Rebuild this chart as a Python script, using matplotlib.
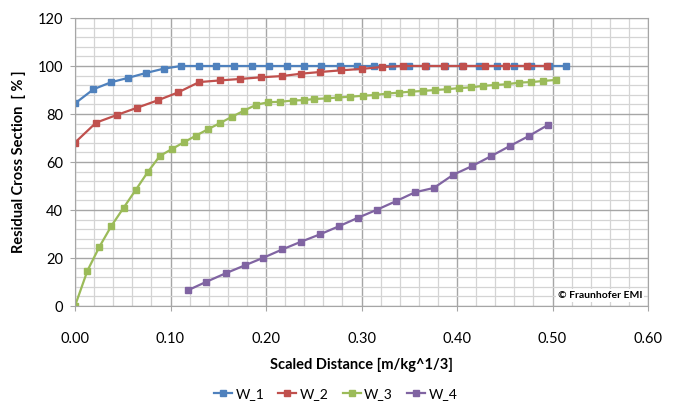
import numpy as np
import matplotlib.pyplot as plt
from matplotlib.ticker import MultipleLocator

plt.rcParams['font.family'] = ['Lato', 'DejaVu Sans']

# W_1
x_w1 = [0.0, 0.0193, 0.0375, 0.056, 0.0744, 0.093, 0.111, 0.13, 0.148, 0.167,
        0.185, 0.2035, 0.222, 0.240, 0.258, 0.277, 0.295, 0.313, 0.332, 0.350,
        0.368, 0.387, 0.405, 0.423, 0.442, 0.460, 0.478, 0.496, 0.514]
y_w1 = [84.4, 90.3, 93.2, 95.1, 97.1, 98.9, 100, 100, 100, 100,
        100, 100, 100, 100, 100, 100, 100, 100, 100, 100,
        100, 100, 100, 100, 100, 100, 100, 100, 100]

# W_2
x_w2 = [0.0, 0.0221, 0.0439, 0.065, 0.0867, 0.108, 0.13, 0.152, 0.173, 0.195,
        0.2165, 0.237, 0.2565, 0.2786, 0.3003, 0.3218, 0.3435, 0.366, 0.386,
        0.4067, 0.4295, 0.4516, 0.4734, 0.4944]
y_w2 = [68.1, 76.4, 79.6, 82.6, 85.7, 89.0, 93.3, 94.0, 94.6, 95.3,
        95.8, 96.8, 97.5, 98.2, 98.8, 99.6, 100, 100, 100,
        100, 100, 100, 100, 100]

# W_3
x_w3 = [0.0, 0.013, 0.0256, 0.038, 0.051, 0.0635, 0.076, 0.0888, 0.1014, 0.114,
        0.1267, 0.139, 0.152, 0.1646, 0.177, 0.19, 0.2025, 0.215, 0.228, 0.240,
        0.2505, 0.2635, 0.2758, 0.2884, 0.3014, 0.3137, 0.3266, 0.339, 0.3516,
        0.3645, 0.3768, 0.3892, 0.4021, 0.4147, 0.427, 0.44, 0.4523, 0.4653,
        0.4779, 0.4902, 0.5032]
y_w3 = [0.0, 14.7, 24.7, 33.3, 41.0, 48.3, 55.7, 62.5, 65.4, 68.2,
        71.0, 73.6, 76.25, 78.9, 81.4, 83.9, 84.9, 85.1, 85.6, 85.8,
        86.25, 86.5, 86.9, 87.2, 87.6, 87.9, 88.5, 88.9, 89.3,
        89.6, 90.0, 90.3, 90.8, 91.1, 91.7, 92.1, 92.4, 93.1,
        93.3, 93.75, 94.2]

# W_4
x_w4 = [0.1179, 0.1376, 0.1576, 0.1776, 0.1972, 0.2172, 0.2368, 0.2568, 0.2768,
        0.2965, 0.3161, 0.3365, 0.3561, 0.3758, 0.3961, 0.4158, 0.4355, 0.4555,
        0.4751, 0.4951]
y_w4 = [6.5, 10.1, 13.6, 16.9, 20.1, 23.6, 26.8, 29.9, 33.3,
        36.8, 40.1, 43.75, 47.4, 49.2, 54.7, 58.3, 62.4, 66.7,
        70.8, 75.4]

series = [("W_1", x_w1, y_w1, "#4F81BD"),
          ("W_2", x_w2, y_w2, "#C0504D"),
          ("W_3", x_w3, y_w3, "#9BBB59"),
          ("W_4", x_w4, y_w4, "#8064A2")]

fig = plt.figure(figsize=(6.78, 4.03), dpi=100)
ax = fig.add_axes([75 / 678, 1 - 306 / 403, (648 - 75) / 678, (306 - 18) / 403])

for name, xs, ys, col in series:
    ax.plot(xs, ys, color=col, lw=1.6, marker='s', ms=3.8, label=name)

ax.set_xlim(0, 0.6)
ax.set_ylim(0, 120)
ax.xaxis.set_major_locator(MultipleLocator(0.1))
ax.xaxis.set_minor_locator(MultipleLocator(0.02))
ax.yaxis.set_major_locator(MultipleLocator(20))
ax.yaxis.set_minor_locator(MultipleLocator(4))
ax.xaxis.set_major_formatter(lambda v, p: f"{v:.2f}")
ax.grid(which='major', color='#a6a6a6', lw=1.0)
ax.grid(which='minor', color='#d4d4d4', lw=0.9)
ax.set_axisbelow(True)
for s in ax.spines.values():
    s.set_color('#a6a6a6')
ax.tick_params(which='major', length=3.6, color='#a6a6a6', labelsize=10.5)
ax.tick_params(axis='x', which='major', pad=15)
ax.tick_params(axis='y', which='major', pad=5)
ax.tick_params(which='minor', length=0)

ax.set_xlabel("Scaled Distance [m/kg^1/3]", fontsize=10.5, fontweight='bold', labelpad=9)
ax.set_ylabel("Residual Cross Section  [ % ]", fontsize=10.5, fontweight='bold', labelpad=8)

ax.text(0.99, 0.02, "© Fraunhofer EMI", transform=ax.transAxes, ha='right', va='bottom',
        fontsize=7.5, fontweight='bold',
        bbox=dict(facecolor='white', edgecolor='none', pad=1.5))

fig.legend(loc='center', bbox_to_anchor=(0.495, 1 - 394 / 403), ncol=4, frameon=False,
           fontsize=10, handlelength=1.3, handletextpad=0.25, columnspacing=1.0,
           borderaxespad=0, borderpad=0)

fig.savefig("out.png", dpi=100)
